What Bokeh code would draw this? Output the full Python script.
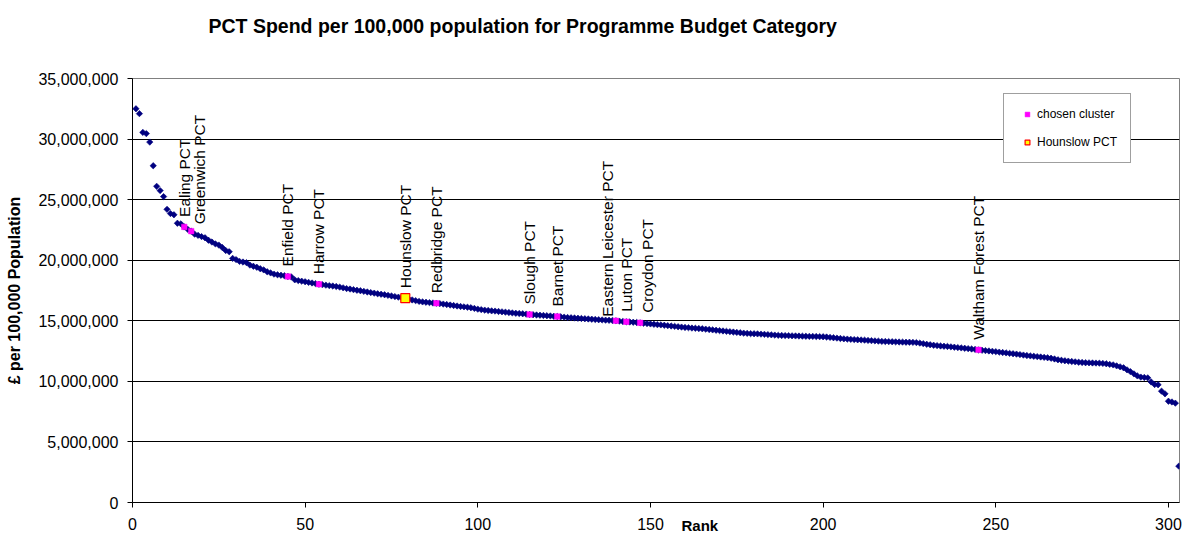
import math
from bokeh.plotting import figure
from bokeh.models import (Range1d, NumeralTickFormatter, FixedTicker, Legend,
                          LegendItem, Title, ColumnDataSource)
from bokeh.embed import file_html
from bokeh.resources import INLINE
from bokeh.core.properties import value

# ---------------- data (in £ millions) ----------------
spend_m = [
    32.50, 32.10, 30.55, 30.45, 29.75, 27.80, 26.10, 25.75, 25.25, 24.20,
    23.85, 23.75, 23.05, 23.00, 22.75, 22.55, 22.40, 22.15, 22.05, 21.95,
    21.85, 21.65, 21.50, 21.35, 21.25, 21.05, 20.80, 20.70, 20.15, 20.05,
    19.90, 19.85, 19.80, 19.60, 19.50, 19.42, 19.30, 19.20, 19.05, 18.95,
    18.85, 18.80, 18.76, 18.72, 18.66, 18.62, 18.38, 18.32, 18.27, 18.22,
    18.17, 18.12, 18.07, 18.02, 17.98, 17.94, 17.90, 17.87, 17.83, 17.78,
    17.72, 17.66, 17.62, 17.57, 17.52, 17.48, 17.43, 17.38, 17.33, 17.28,
    17.23, 17.19, 17.15, 17.10, 17.05, 17.00, 16.95, 16.91, 16.87, 16.80,
    16.72, 16.66, 16.60, 16.56, 16.53, 16.50, 16.47, 16.45, 16.42, 16.38,
    16.34, 16.30, 16.26, 16.22, 16.18, 16.15, 16.12, 16.08, 16.02, 15.96,
    15.92, 15.88, 15.85, 15.82, 15.80, 15.77, 15.74, 15.71, 15.68, 15.65,
    15.62, 15.60, 15.58, 15.55, 15.52, 15.50, 15.48, 15.46, 15.44, 15.42,
    15.40, 15.37, 15.35, 15.33, 15.30, 15.27, 15.25, 15.23, 15.21, 15.19,
    15.17, 15.15, 15.13, 15.11, 15.09, 15.07, 15.05, 15.04, 15.02, 15.00,
    14.97, 14.94, 14.92, 14.90, 14.88, 14.86, 14.83, 14.80, 14.77, 14.74,
    14.71, 14.68, 14.66, 14.63, 14.60, 14.57, 14.54, 14.51, 14.48, 14.45,
    14.43, 14.40, 14.38, 14.36, 14.34, 14.31, 14.28, 14.25, 14.22, 14.19,
    14.16, 14.13, 14.10, 14.07, 14.04, 14.01, 13.98, 13.96, 13.94, 13.93,
    13.92, 13.90, 13.88, 13.86, 13.84, 13.82, 13.80, 13.79, 13.78, 13.77,
    13.76, 13.75, 13.74, 13.73, 13.72, 13.71, 13.71, 13.70, 13.69, 13.68,
    13.66, 13.63, 13.60, 13.57, 13.54, 13.51, 13.49, 13.47, 13.45, 13.43,
    13.42, 13.40, 13.38, 13.36, 13.34, 13.32, 13.30, 13.29, 13.28, 13.27,
    13.26, 13.25, 13.24, 13.23, 13.23, 13.22, 13.20, 13.16, 13.11, 13.06,
    13.02, 12.98, 12.95, 12.92, 12.90, 12.88, 12.85, 12.82, 12.79, 12.76,
    12.73, 12.70, 12.67, 12.64, 12.60, 12.57, 12.54, 12.51, 12.48, 12.45,
    12.41, 12.38, 12.35, 12.31, 12.28, 12.25, 12.21, 12.17, 12.13, 12.10,
    12.07, 12.04, 12.01, 11.98, 11.95, 11.91, 11.85, 11.78, 11.74, 11.70,
    11.67, 11.64, 11.61, 11.58, 11.56, 11.54, 11.53, 11.52, 11.51, 11.50,
    11.48, 11.45, 11.40, 11.36, 11.28, 11.20, 11.12, 10.95, 10.80, 10.62,
    10.45, 10.35, 10.32, 10.29, 9.95, 9.74, 9.72, 9.19, 8.97, 8.36,
    8.30, 8.20, 3.00,
]
ranks = list(range(1, len(spend_m) + 1))
spend = [v * 1e6 for v in spend_m]

cluster_names = ["Ealing PCT", "Greenwich PCT", "Enfield PCT", "Harrow PCT",
                 "Redbridge PCT", "Slough PCT", "Barnet PCT",
                 "Eastern Leicester PCT", "Luton PCT", "Croydon PCT",
                 "Waltham Forest PCT"]
cluster_ranks = [15, 17, 45, 54, 88, 115, 123, 140, 143, 147, 245]
focus_name = "Hounslow PCT"
focus_rank = 79

x_ticks = [0, 50, 100, 150, 200, 250, 300]
y_ticks = [0, 5e6, 10e6, 15e6, 20e6, 25e6, 30e6, 35e6]

title_text = "PCT Spend per 100,000 population for Programme Budget Category"
x_title = "Rank"
y_title = "£ per 100,000 Population"

# label nudges in screen pixels (style only)
label_dx = {"Greenwich PCT": 8, "Eastern Leicester PCT": -8, "Croydon PCT": 7}
label_dy = {"Greenwich PCT": -7, "Eastern Leicester PCT": -4}

FONT = "Liberation Sans"

cluster_vals = [spend[r - 1] for r in cluster_ranks]
focus_val = spend[focus_rank - 1]

p = figure(width=1183, height=533, output_backend="svg", toolbar_location=None,
           x_range=Range1d(0, 303.2), y_range=Range1d(0, 35e6),
           min_border_left=132, min_border_right=4, min_border_top=78,
           min_border_bottom=31, title=None)

p.background_fill_color = "white"
p.border_fill_color = "white"
p.outline_line_color = "#808080"
p.outline_line_width = 1

p.xgrid.grid_line_color = None
p.ygrid.grid_line_color = "black"
p.ygrid.grid_line_width = 1
p.xaxis.ticker = FixedTicker(ticks=x_ticks)
p.yaxis.ticker = FixedTicker(ticks=y_ticks)
p.yaxis.formatter = NumeralTickFormatter(format="0,0")

for ax in (p.xaxis[0], p.yaxis[0]):
    ax.axis_line_color = "black"
    ax.major_tick_line_color = "black"
    ax.major_tick_in = 0
    ax.major_tick_out = 5
    ax.minor_tick_line_color = None
    ax.major_label_text_font = FONT
    ax.major_label_text_font_size = "16px"
    ax.major_label_text_color = "black"
    ax.major_label_standoff = 9

p.xaxis.major_label_standoff = 10
p.yaxis.axis_label = y_title
p.yaxis.axis_label_text_font = FONT
p.yaxis.axis_label_text_font_size = "16px"
p.yaxis.axis_label_text_font_style = "bold"
p.yaxis.axis_label_text_color = "black"
p.yaxis.axis_label_standoff = 12

# main series
p.scatter(ranks, spend, marker="square", angle=math.pi / 4, size=4.5,
          fill_color="#000080", line_color="#000080", line_width=0.6)

# chosen cluster
pink = p.scatter(cluster_ranks, cluster_vals, marker="square", size=5.5,
                 fill_color="#FF00FF", line_color="#FF00FF", line_width=0.5)
# focus PCT
hsl = p.scatter([focus_rank], [focus_val], marker="square", size=9,
                fill_color="#FFFF00", line_color="#FF0000", line_width=1.2)

# data labels
lab_names = cluster_names + [focus_name]
lab_ranks = cluster_ranks + [focus_rank]
lab_vals = cluster_vals + [focus_val]
src = ColumnDataSource(dict(
    x=lab_ranks, y=lab_vals, t=lab_names,
    dx=[label_dx.get(n, 0) for n in lab_names],
    dy=[label_dy.get(n, -10) for n in lab_names],
))
p.text(x="x", y="y", text="t", source=src, angle=math.pi / 2,
       x_offset="dx", y_offset="dy", text_align="left", text_baseline="middle",
       text_font=value(FONT), text_font_size="15.5px", text_color="black")

legend = Legend(items=[LegendItem(label="chosen cluster", renderers=[pink]),
                       LegendItem(label="Hounslow PCT", renderers=[hsl])],
                location=(871, 339))
legend.border_line_color = "#404040"
legend.border_line_width = 1
legend.background_fill_color = "white"
legend.background_fill_alpha = 1
legend.label_text_font = FONT
legend.label_text_font_size = "12px"
legend.label_text_color = "black"
legend.padding = 13
legend.spacing = 14
legend.glyph_width = 20
legend.glyph_height = 12
legend.label_height = 12
legend.label_standoff = 0
legend.margin = 0
p.add_layout(legend)

# spacer panel next to the frame, then the chart title above it
spacer = Title(text=" ", text_font=FONT, text_font_size="19.5px", standoff=17)
p.add_layout(spacer, "above")
main_title = Title(text=title_text, align="left", offset=76, standoff=2,
                   text_font=FONT, text_font_size="19.5px",
                   text_font_style="bold", text_color="black")
p.add_layout(main_title, "above")

# x-axis title, tucked up beside the tick labels as in the reference
rank_title = Title(text=x_title, align="left", offset=549, standoff=-32,
                   vertical_align="top", text_font=FONT, text_font_size="15px",
                   text_font_style="bold", text_color="black")
p.add_layout(rank_title, "below")

open("out.html", "w").write(file_html(p, INLINE))
